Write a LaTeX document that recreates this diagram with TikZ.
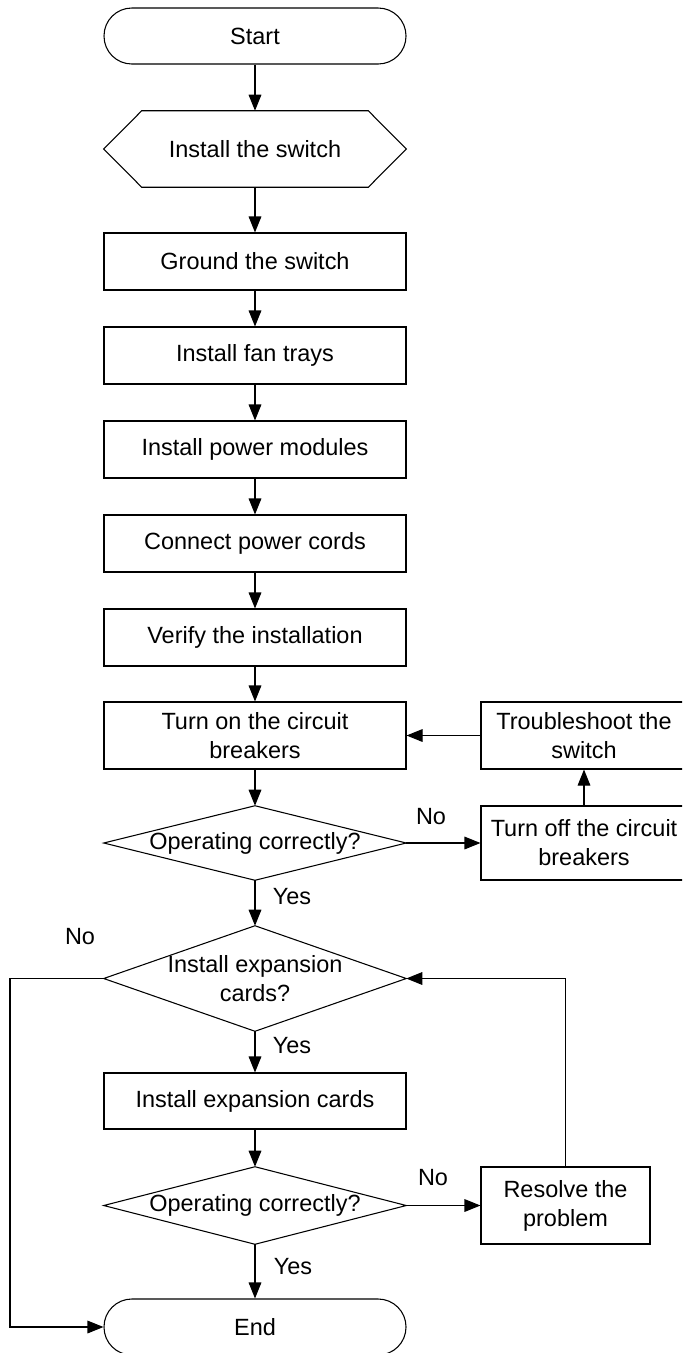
\documentclass[tikz,border=0pt]{standalone}
\usepackage{fontspec}
\setmainfont{Liberation Sans}
\usetikzlibrary{arrows.meta,calc}
\begin{document}
\begin{tikzpicture}[x=0.75pt,y=-0.75pt,
  font=\fontsize{17.6}{21.75}\selectfont,
  every node/.style={inner sep=0pt, align=center},
  ln/.style={line width=0.8pt, draw=black},
  box/.style 2 args={ln, draw, minimum width={#1*0.75pt}, minimum height={#2*0.75pt}},
  term/.style={ln, draw, rounded corners=20.9pt, minimum width={302*0.75pt}, minimum height={56*0.75pt}},
  shp/.style 2 args={minimum width={#1*0.75pt}, minimum height={#2*0.75pt}},
  arr/.style={ln, -{Triangle[length=12pt,width=9.5pt]}},
  lbl/.style={}]
\useasboundingbox (0,0) rectangle (682,1353);
\clip (0,0) rectangle (682,1353);

% main column
\node[term] (start) at (255,36) {Start};
\node[shp={302}{76}] (hx) at (255,149) {Install the switch};
\draw[ln] (hx.west) -- ($(hx.north west)+(38,0)$) -- ($(hx.north east)+(-38,0)$) -- (hx.east)
  -- ($(hx.south east)+(-38,0)$) -- ($(hx.south west)+(38,0)$) -- cycle;
\node[box={302}{57}] (g) at (255,261.5) {Ground the switch};
\node[box={302}{57}] (f) at (255,355.5) {Install fan trays};
\node[box={302}{57}] (p) at (255,449.5) {Install power modules};
\node[box={302}{57}] (c) at (255,543.5) {Connect power cords};
\node[box={302}{57}] (v) at (255,637.5) {Verify the installation};
\node[box={302}{67}] (on) at (255,735.5) {Turn on the circuit\\breakers};
\node[shp={302}{74}] (d1) at (255,843) {Operating correctly?};
\draw[ln] (d1.north) -- (d1.east) -- (d1.south) -- (d1.west) -- cycle;
\node[shp={302}{105}] (d2) at (255,978.5) {Install expansion\\cards?};
\draw[ln] (d2.north) -- (d2.east) -- (d2.south) -- (d2.west) -- cycle;
\node[box={302}{56}] (ie) at (255,1101) {Install expansion cards};
\node[shp={302}{77}] (d3) at (255,1205.5) {Operating correctly?};
\draw[ln] (d3.north) -- (d3.east) -- (d3.south) -- (d3.west) -- cycle;
\node[term] (end) at (255,1327) {End};

% right column
\node[box={206}{67}] (ts) at (584,735.5) {Troubleshoot the\\switch};
\node[box={206}{74}] (off) at (584,843) {Turn off the circuit\\breakers};
\node[box={169}{77}] (res) at (565.5,1205.5) {Resolve the\\problem};

% labels
\node[lbl] (no1) at (431,817) {No};
\node[lbl] (yes1) at (292,897) {Yes};
\node[lbl] (no2) at (80,937) {No};
\node[lbl] (yes2) at (292,1046) {Yes};
\node[lbl] (no3) at (433,1178) {No};
\node[lbl] (yes3) at (293,1267) {Yes};

% connectors
\draw[arr] (start) -- (hx);
\draw[arr] (hx) -- (g);
\draw[arr] (g) -- (f);
\draw[arr] (f) -- (p);
\draw[arr] (p) -- (c);
\draw[arr] (c) -- (v);
\draw[arr] (v) -- (on);
\draw[arr] (on) -- (d1.north);
\draw[arr] (d1.south) -- (d2.north);
\draw[arr] (d2.south) -- (ie);
\draw[arr] (ie) -- (d3.north);
\draw[arr] (d3.south) -- (end);
\draw[arr] (d1.east) -- (off);
\draw[arr] (off) -- (ts);
\draw[arr] (ts) -- (on);
\draw[arr] (d3.east) -- (res.west);
\draw[arr] (res.north) |- (d2.east);
\coordinate (lft) at (10,978.5);
\draw[arr] (d2.west) -- (lft) |- (end.west);
\end{tikzpicture}
\end{document}
